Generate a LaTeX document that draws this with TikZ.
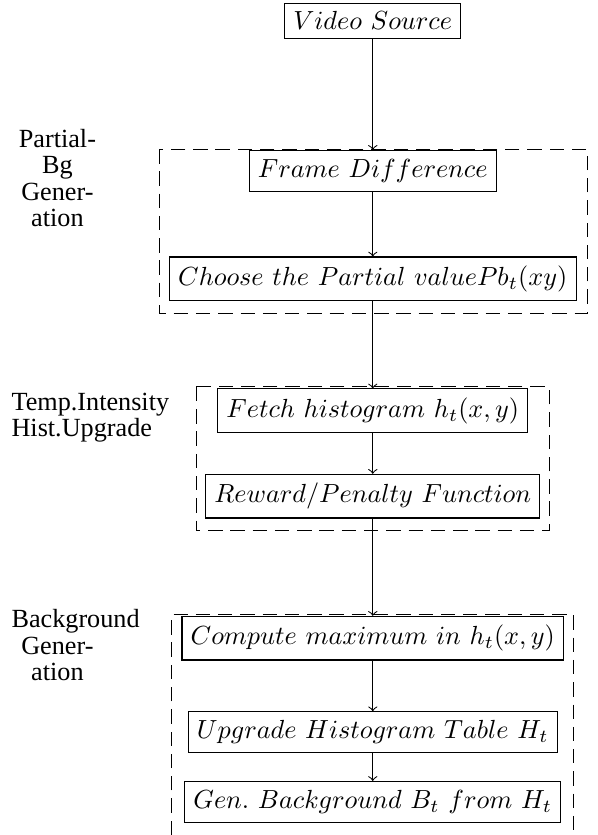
\documentclass[tikz,border=0pt]{standalone}
\usepackage{fontspec}
\newfontfamily\grpfont{Liberation Serif}
\begin{document}
\begin{tikzpicture}[
	caja/.style={draw, inner sep=.3333em},
	grupo/.style={dash pattern=on 5.5pt off 3pt},
	etiqueta/.style={font=\grpfont\fontsize{10}{10}\selectfont, text width=1.23cm, align=center, anchor=north, inner sep=0pt},
	flecha/.style={->}
	]
	\useasboundingbox (0,0) rectangle (8.01,-11.2);
	%Pasos%
	\node[caja] (fuente) at (5,-.28) {$Video\ Source$};
	\node[caja] (difer) at (5,-2.29) {$Frame\ Difference$};
	\node[caja] (parcial) at (5,-3.74) {$Choose\ the\ Partial\ value Pb_t(xy)$};
	\node[caja] (histo) at (5,-5.51) {$Fetch\ histogram\ h_t(x,y)$};
	\node[caja] (premio) at (5,-6.655) {$Reward/Penalty\ Function$};
	\node[caja] (maximo) at (5,-8.56) {$Compute\ maximum\ in\ h_t(x,y)$};
	\node[caja] (tabla) at (5,-9.82) {$Upgrade\ Histogram\ Table\ H_t$};
	\node[caja] (fondo) at (5,-10.755) {$Gen.\ Background\ B_t\ from\ H_t$};
	%Grupos%
	\draw [grupo] (2.14,-2) rectangle (7.88,-4.2);
	\draw [grupo] (2.63,-5.19) rectangle (7.37,-7.12);
	\draw [grupo] (2.3,-11.2) -- (2.3,-8.24) -- (7.69,-8.24) -- (7.69,-11.2);
	\node[etiqueta] (gparcial) at (.77,-1.73) {Partial-\\Bg\\Gener-\\ation};
	\node[etiqueta] (gtemp) at (.77,-5.26) {Temp.Intensity\\Hist.Upgrade};
	\node[etiqueta] (gfondo) at (.77,-8.17) {\mbox{Background}\\Gener-\\ation};
	%Flechas%
	\draw[flecha] (fuente) -- (difer);
	\draw[flecha] (difer) -- (parcial);
	\draw[flecha] (parcial) -- (histo);
	\draw[flecha] (histo) -- (premio);
	\draw[flecha] (premio) -- (maximo);
	\draw[flecha] (maximo) -- (tabla);
	\draw[flecha] (tabla) -- (fondo);
\end{tikzpicture}
\end{document}
